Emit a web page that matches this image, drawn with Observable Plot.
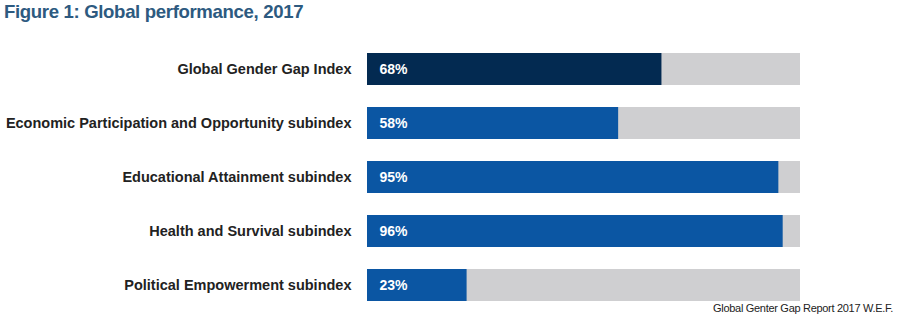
<!DOCTYPE html>
<html>
<head>
<meta charset="utf-8">
<script src="https://cdn.jsdelivr.net/npm/d3@7"></script>
<script src="https://cdn.jsdelivr.net/npm/@observablehq/plot@0.6"></script>
<style>
  body { margin: 0; background: #fff; }
  #wrap { position: relative; width: 900px; height: 323px; overflow: hidden; font-family: "Liberation Sans", Arial, sans-serif; }
  #title { position: absolute; left: 4px; top: 0px; font-size: 18.6px; font-weight: bold; color: #2d5a80; line-height: 24px; letter-spacing: -0.35px; }
  #caption { position: absolute; right: 7px; top: 301px; font-size: 11px; color: #222; letter-spacing: -0.3px; line-height: 14px; }
  #chart { position: absolute; left: 0; top: 0; }
</style>
</head>
<body>
<div id="wrap">
  <div id="chart"></div>
  <div id="title">Figure 1: Global performance, 2017</div>
  <div id="caption">Global Genter Gap Report 2017 W.E.F.</div>
</div>
<script>
const categories = [
  "Global Gender Gap Index",
  "Economic Participation and Opportunity subindex",
  "Educational Attainment subindex",
  "Health and Survival subindex",
  "Political Empowerment subindex"
];
const values = [68, 58, 95, 96, 23];
const maxValue = 100;

const rows = categories.map((c, i) => ({category: c, value: values[i], max: maxValue, isIndex: i === 0}));

const chart = Plot.plot({
  width: 900,
  height: 323,
  marginTop: 31,
  marginBottom: 0,
  marginLeft: 367,
  marginRight: 100,
  style: {fontFamily: "'Liberation Sans', Arial, sans-serif", background: "transparent"},
  x: {domain: [0, 100], axis: null},
  y: {domain: categories, padding: 22/54, label: null},
  marks: [
    Plot.barX(rows, {y: "category", x: "max", fill: "#cfcfd1"}),
    Plot.barX(rows, {y: "category", x: "value", fill: d => d.isIndex ? "#032a51" : "#0b56a3"}),
    Plot.text(rows, {y: "category", x: 0, text: d => d.value + "%", textAnchor: "start", dx: 12, fill: "white", fontWeight: "bold", fontSize: 14}),
    Plot.axisY({tickSize: 0, tickPadding: 16, fontSize: 14.5, fontWeight: "bold", color: "#222", label: null})
  ]
});
document.getElementById("chart").appendChild(chart);
</script>
</body>
</html>
